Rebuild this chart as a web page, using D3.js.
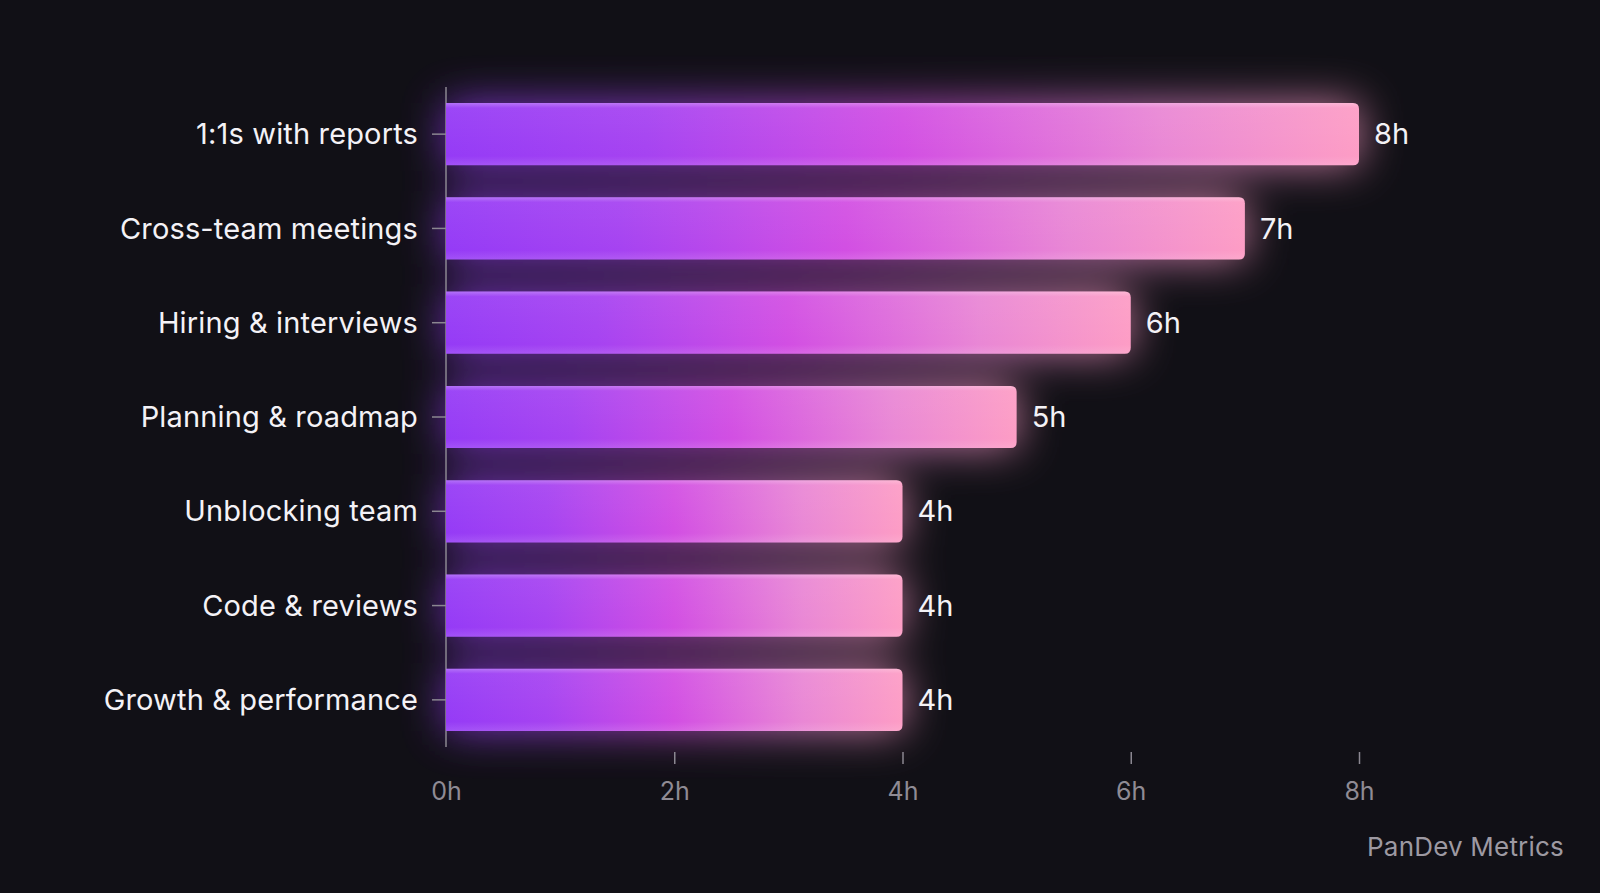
<!DOCTYPE html>
<html>
<head>
<meta charset="utf-8">
<script src="https://cdn.jsdelivr.net/npm/d3@7"></script>
<style>
  html, body { margin: 0; padding: 0; background: #111016; }
  svg { display: block; }
  svg text { font-family: Inter, "Noto Sans", sans-serif; }
</style>
</head>
<body>
<svg id="chart" width="1600" height="893"></svg>
<script>
// hours per week
const categories = [
  "1:1s with reports",
  "Cross-team meetings",
  "Hiring & interviews",
  "Planning & roadmap",
  "Unblocking team",
  "Code & reviews",
  "Growth & performance"
]
const hours = [8, 7, 6, 5, 4, 4, 4]
const xTicks = [0, 2, 4, 6, 8]

const width = 1600, height = 893
const margin = { left: 446, top: 87, bottom: 146 }
const font = "Inter, 'Noto Sans', sans-serif"

const svg = d3.select("#chart")

svg.append("rect")
    .attr("width", width)
    .attr("height", height)
    .attr("fill", "#111016")

const defs = svg.append("defs")

const grad = defs.append("linearGradient")
    .attr("id", "barGrad")
    .attr("x1", 0).attr("x2", 1).attr("y1", 0).attr("y2", 0)
grad.selectAll("stop")
    .data([
        { o: 0, c: "#953bf6" },
        { o: 0.22, c: "#a643f1" },
        { o: 0.5, c: "#d24fe3" },
        { o: 0.78, c: "#e987d5" },
        { o: 1, c: "#fd9dc5" }
    ])
    .enter().append("stop")
    .attr("offset", d => d.o)
    .attr("stop-color", d => d.c)

// soft vertical sheen on top of the bar
const sheen = defs.append("linearGradient")
    .attr("id", "sheen")
    .attr("x1", 0).attr("x2", 0).attr("y1", 0).attr("y2", 1)
sheen.selectAll("stop")
    .data([
        { o: 0, c: "#ffffff", a: 0.28 },
        { o: 0.08, c: "#ffffff", a: 0.06 },
        { o: 0.85, c: "#ffffff", a: 0 },
        { o: 1, c: "#ffffff", a: 0.12 }
    ])
    .enter().append("stop")
    .attr("offset", d => d.o)
    .attr("stop-color", d => d.c)
    .attr("stop-opacity", d => d.a)

defs.append("filter")
    .attr("id", "glow")
    .attr("x", "-30%").attr("y", "-80%")
    .attr("width", "160%").attr("height", "260%")
  .append("feGaussianBlur")
    .attr("stdDeviation", 22)

const x = d3.scaleLinear()
    .domain([0, 8])
    .range([margin.left, 1359])

const y = d3.scaleBand()
    .domain(categories)
    .range([margin.top, height - margin.bottom])
    .paddingInner(0.34)
    .paddingOuter(0.17)

const data = categories.map((c, i) => ({ cat: c, h: hours[i] }))

const r = 6
const barPath = d => {
    const x0 = x(0), x1 = x(d.h), y0 = y(d.cat), y1 = y0 + y.bandwidth()
    return `M${x0},${y0}H${x1 - r}Q${x1},${y0} ${x1},${y0 + r}V${y1 - r}Q${x1},${y1} ${x1 - r},${y1}H${x0}Z`
}

// glow layer
svg.append("g")
    .attr("class", "glow")
    .attr("filter", "url(#glow)")
    .attr("opacity", 0.75)
  .selectAll("path")
    .data(data)
    .enter().append("path")
    .attr("d", barPath)
    .attr("fill", "url(#barGrad)")

// y axis line + ticks
const yAxisG = svg.append("g")
    .attr("transform", `translate(${margin.left},0)`)
    .call(d3.axisLeft(y).tickSizeInner(14).tickSizeOuter(0).tickPadding(14))
    .attr("font-family", font)
yAxisG.select(".domain")
    .attr("d", `M0,${margin.top}V${height - margin.bottom}`)
    .attr("stroke", "#8b8791")
    .attr("stroke-width", 1.5)
yAxisG.selectAll(".tick line")
    .attr("stroke", "#8b8791")
    .attr("stroke-width", 1.5)
yAxisG.selectAll(".tick text")
    .attr("fill", "#f4f2f6")
    .attr("font-size", 29)
    .attr("letter-spacing", 0.15)
    .attr("dy", "0.35em")

// bars
const bars = svg.append("g").attr("class", "bars")
bars.selectAll("path.bar")
    .data(data)
    .enter().append("path")
    .attr("class", "bar")
    .attr("d", barPath)
    .attr("fill", "url(#barGrad)")
bars.selectAll("path.sheen")
    .data(data)
    .enter().append("path")
    .attr("class", "sheen")
    .attr("d", barPath)
    .attr("fill", "url(#sheen)")

// value labels
svg.append("g")
    .attr("font-family", font)
  .selectAll("text")
    .data(data)
    .enter().append("text")
    .attr("x", d => x(d.h) + 15)
    .attr("y", d => y(d.cat) + y.bandwidth() / 2)
    .attr("dy", "0.35em")
    .attr("fill", "#f4f2f6")
    .attr("font-size", 29)
    .text(d => d.h + "h")

// x axis: ticks only, no baseline
const xAxisG = svg.append("g")
    .attr("transform", `translate(0,${height - margin.bottom + 5})`)
    .call(d3.axisBottom(x).tickValues(xTicks).tickFormat(d => d + "h").tickSizeInner(12).tickSizeOuter(0).tickPadding(18))
    .attr("font-family", font)
xAxisG.select(".domain").remove()
xAxisG.selectAll(".tick line")
    .attr("stroke", "#8b8791")
    .attr("stroke-width", 1.5)
    .filter(d => d === 0).remove()
xAxisG.selectAll(".tick text")
    .attr("fill", "#8f8b94")
    .attr("font-size", 25)

// watermark
svg.append("text")
    .attr("x", 1564)
    .attr("y", 856)
    .attr("text-anchor", "end")
    .attr("font-family", font)
    .attr("fill", "#9d99a2")
    .attr("font-size", 26)
    .attr("letter-spacing", 0.2)
    .text("PanDev Metrics")
</script>
</body>
</html>
